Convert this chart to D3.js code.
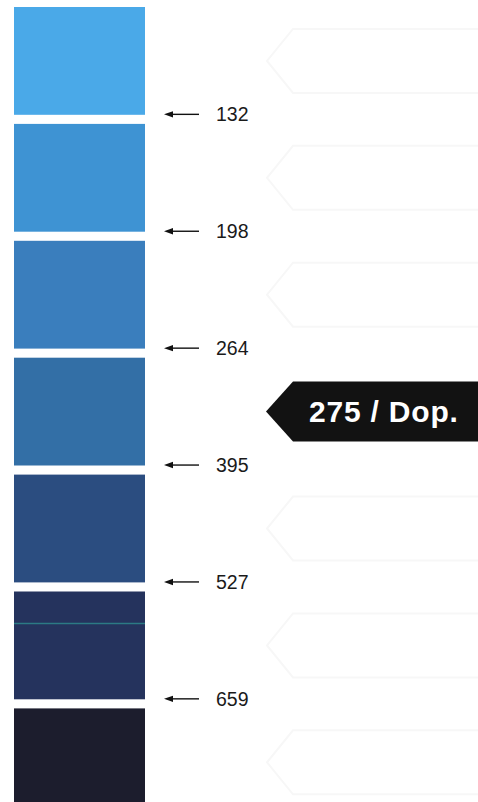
<!DOCTYPE html>
<html>
<head>
<meta charset="utf-8">
<script src="https://cdn.jsdelivr.net/npm/d3@7"></script>
<style>
  html, body { margin: 0; padding: 0; background: #fff; }
  svg { display: block; }
</style>
</head>
<body>
<div id="chart"></div>
<script>
// swatch colours, light to dark
const swatches = ["s1", "s2", "s3", "s4", "s5", "s6", "s7"];
const swatchColors = ["#4aa9e8", "#3e93d3", "#3a7ebd", "#336fa6", "#2b4d80", "#25335d", "#1c1d2d"];
// values marked between the swatches
const markLabels = ["132", "198", "264", "395", "527", "659"];
// the highlighted swatch
const selected = "s4";
const selectedLabel = "275 / Dop.";

const width = 478, height = 802;

const svg = d3.select("#chart")
  .append("svg")
  .attr("width", width)
  .attr("height", height);

// one band per swatch, running past the bottom edge like the scan
const y = d3.scaleBand()
  .domain(swatches)
  .range([7, 7 + swatches.length * 115.6])
  .paddingInner(9 / 115.6)
  .paddingOuter(0);

const x0 = 14, x1 = 145;

// faint ghost tags on the right (print-through of the card)
svg.selectAll(".ghost")
  .data(swatches.filter(d => d !== selected))
  .enter()
  .append("path")
  .attr("class", "ghost")
  .attr("d", d => {
    const c = y(d) + y.bandwidth() / 2, h = 32;
    return `M${width + 2},${c - h} L293,${c - h} L267,${c} L293,${c + h} L${width + 2},${c + h}`;
  })
  .attr("fill", "none")
  .attr("stroke", "#f7f7f7")
  .attr("stroke-width", 2);

// swatches
svg.selectAll(".swatch")
  .data(swatches)
  .enter()
  .append("rect")
  .attr("class", "swatch")
  .attr("x", x0)
  .attr("y", d => y(d))
  .attr("width", x1 - x0)
  .attr("height", y.bandwidth())
  .attr("fill", (d, i) => swatchColors[i]);

// scan artefact: teal streak across swatch 6
svg.append("line")
  .attr("x1", x0).attr("x2", x1)
  .attr("y1", y("s6") + 32).attr("y2", y("s6") + 32)
  .attr("stroke", "#2e8c8e")
  .attr("stroke-width", 1.5)
  .attr("opacity", 0.8);

// marks sit in the gap below each swatch
const gapY = i => y(swatches[i]) + y.bandwidth() + y.step() * y.paddingInner() / 2 - 5;

const marks = svg.selectAll(".mark")
  .data(markLabels)
  .enter()
  .append("g")
  .attr("class", "mark")
  .attr("transform", (d, i) => `translate(0,${gapY(i)})`);

marks.append("line")
  .attr("x1", 170).attr("x2", 199)
  .attr("y1", 0).attr("y2", 0)
  .attr("stroke", "#111")
  .attr("stroke-width", 1.4);

marks.append("path")
  .attr("d", "M164,0 L173,-3.2 L173,3.2 Z")
  .attr("fill", "#111");

marks.append("text")
  .attr("x", 216)
  .attr("y", 0)
  .attr("dy", "0.36em")
  .attr("font-family", "Liberation Sans, Arial, sans-serif")
  .attr("font-size", 19.5)
  .attr("fill", "#1a1a1a")
  .text(d => d);

// highlighted tag
const cy = y(selected) + y.bandwidth() / 2;
const tag = svg.append("g").attr("transform", `translate(0,${cy})`);

tag.append("path")
  .attr("d", `M${width},-30 L293,-30 L266,0 L293,30 L${width},30 Z`)
  .attr("fill", "#121212");

tag.append("text")
  .attr("x", 309)
  .attr("y", 0)
  .attr("dy", "0.36em")
  .attr("font-family", "Liberation Sans, Arial, sans-serif")
  .attr("font-weight", "bold")
  .attr("font-size", 30)
  .attr("letter-spacing", 0.8)
  .attr("fill", "#fff")
  .text(selectedLabel);
</script>
</body>
</html>
